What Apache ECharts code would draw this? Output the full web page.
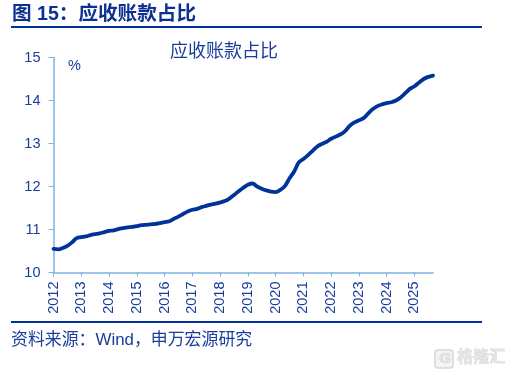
<!DOCTYPE html>
<html>
<head>
<meta charset="utf-8">
<script src="https://cdn.jsdelivr.net/npm/echarts@6/dist/echarts.min.js"></script>
<style>
html, body { margin: 0; padding: 0; background: #fff; }
#main { width: 509px; height: 376px; }
</style>
</head>
<body>
<div id="main"></div>
<script>
// 2012 起每两个月一个点
var startYear = 2012;
var valuesByYear = [
	[10.55, 10.54, 10.57, 10.62, 10.70, 10.80],
	[10.82, 10.84, 10.87, 10.89, 10.91, 10.94],
	[10.97, 10.98, 11.01, 11.03, 11.05, 11.06],
	[11.08, 11.10, 11.11, 11.12, 11.13, 11.15],
	[11.17, 11.19, 11.25, 11.30, 11.36, 11.42],
	[11.46, 11.48, 11.52, 11.55, 11.58, 11.60],
	[11.63, 11.66, 11.72, 11.80, 11.89, 11.97],
	[12.04, 12.07, 12.00, 11.95, 11.91, 11.88],
	[11.87, 11.92, 12.01, 12.19, 12.35, 12.56],
	[12.64, 12.73, 12.83, 12.93, 12.99, 13.04],
	[13.11, 13.16, 13.21, 13.29, 13.41, 13.49],
	[13.54, 13.59, 13.70, 13.80, 13.87, 13.91],
	[13.94, 13.96, 14.00, 14.07, 14.17, 14.27],
	[14.33, 14.42, 14.50, 14.55, 14.58]
];
var categories = [];
var values = [];
valuesByYear.forEach(function (row, i) {
	row.forEach(function (v, j) {
		categories.push(j === 0 ? String(startYear + i) : '');
		values.push(v);
	});
});

var cjk = '"Liberation Sans", "Noto Sans CJK SC", sans-serif';
var navy = '#003399';
var textColor = '#1a3c9c';
var axisColor = '#7fb2e0';

var myChart = echarts.init(document.getElementById('main'));
myChart.setOption({
	animation: false,
	title: {
		text: '应收账款占比',
		left: 170,
		top: 43,
		padding: 0,
		textStyle: { fontFamily: cjk, fontSize: 18, fontWeight: 'normal', color: textColor }
	},
	grid: { left: 53.5, right: 76, top: 57.5, bottom: 103.5 },
	xAxis: {
		type: 'category',
		data: categories,
		boundaryGap: false,
		axisLine: { lineStyle: { color: axisColor, width: 1.5 } },
		axisTick: { alignWithLabel: true, length: 4, lineStyle: { color: axisColor, width: 1 }, interval: function (i) { return i % 6 === 0; } },
		axisLabel: {
			interval: function (i) { return i % 6 === 0; },
			rotate: 90,
			margin: 9,
			padding: [4, 0, 0, 0],
			fontFamily: cjk,
			fontSize: 14.5,
			color: textColor
		}
	},
	yAxis: {
		type: 'value',
		min: 10,
		max: 15,
		interval: 1,
		splitLine: { show: false },
		axisLine: { show: true, lineStyle: { color: axisColor, width: 1.5 } },
		axisTick: { show: true, length: 5, lineStyle: { color: axisColor, width: 1 } },
		axisLabel: { margin: 13, fontFamily: cjk, fontSize: 14.5, color: textColor }
	},
	series: [{
		type: 'line',
		data: values,
		smooth: 0.3,
		showSymbol: false,
		lineStyle: { color: navy, width: 3.8, cap: 'round' },
		z: 5
	}],
	graphic: [
		{ type: 'text', left: 12, top: 5, style: { text: '图 15：应收账款占比', font: 'bold 19.6px ' + cjk, fill: '#0c3192' } },
		{ type: 'rect', shape: { x: 11, y: 26, width: 471, height: 2 }, style: { fill: navy } },
		{ type: 'rect', shape: { x: 11, y: 321, width: 471, height: 2 }, style: { fill: navy } },
		{ type: 'text', left: 68, top: 59, style: { text: '%', font: '14.5px ' + cjk, fill: textColor } },
		{ type: 'text', left: 11, top: 332, style: { text: '资料来源：Wind，申万宏源研究', font: '16.9px ' + cjk, fill: textColor } },
		{ type: 'rect', shape: { x: 435, y: 350, width: 18, height: 18, r: 3 }, style: { fill: '#f4f4f4', stroke: '#d6d6d6', lineWidth: 1.5 } },
		{ type: 'text', left: 439, top: 351, style: { text: 'G', font: 'bold 15px ' + cjk, fill: '#e2e2e2', stroke: '#c4c4c4', lineWidth: 0.5 } },
		{ type: 'text', left: 457, top: 349, style: { text: '格隆汇', font: 'bold 16px ' + cjk, fill: '#e6e6e6', stroke: '#c4c4c4', lineWidth: 0.5 } }
	]
});
</script>
</body>
</html>
